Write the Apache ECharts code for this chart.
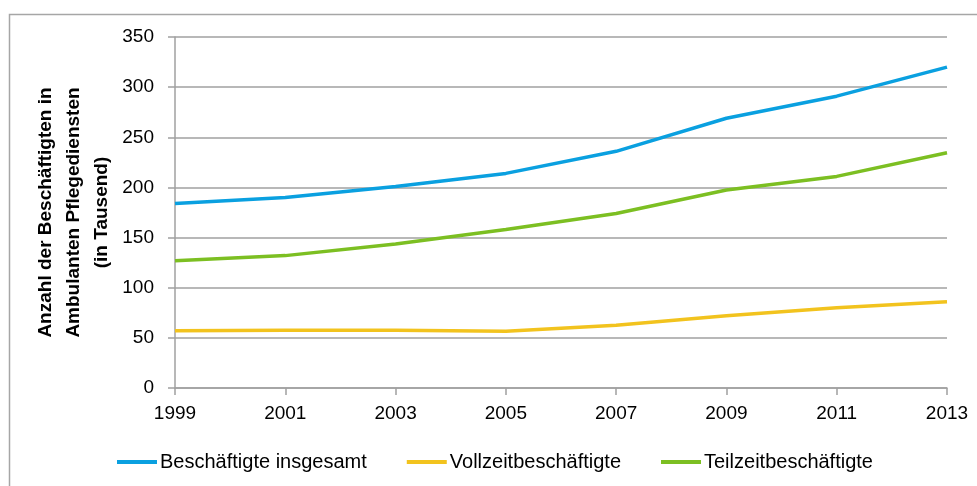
<!DOCTYPE html>
<html>
<head>
<meta charset="utf-8">
<script src="https://cdn.jsdelivr.net/npm/echarts@6/dist/echarts.min.js"></script>
<style>
  html, body { margin: 0; padding: 0; background: #fff; }
  #chart { width: 977px; height: 486px; }
</style>
</head>
<body>
<div id="chart"></div>
<script>
// Jahre (x-Achse)
var years = ["1999", "2001", "2003", "2005", "2007", "2009", "2011", "2013"];
// Werte in Tausend
var insgesamt = [184, 190, 201, 214, 236, 269, 291, 320];
var vollzeit = [57, 57.5, 57.5, 56.5, 62.5, 72, 80, 86];
var teilzeit = [127, 132, 143.5, 158, 174, 197.5, 211, 234.5];
var seriesNames = ["Beschäftigte insgesamt", "Vollzeitbeschäftigte", "Teilzeitbeschäftigte"];
var yTicks = [0, 350, 50]; // min, max, interval

var font = "Liberation Sans, Arial, sans-serif";
var chart = echarts.init(document.getElementById("chart"));

var option = {
  animation: false,
  color: ["#0AA0E0", "#F2C31E", "#7CBF22"],
  graphic: [
    {
      type: "rect",
      shape: { x: 9.5, y: 14.5, width: 1000, height: 500 },
      style: { fill: "none", stroke: "#A6A6A6", lineWidth: 1.5 },
    },
  ],
  grid: {
    left: 175,
    right: 30,
    top: 37,
    bottom: 98,
  },
  legend: {
    left: 112,
    top: 447,
    itemWidth: 40,
    itemHeight: 4,
    itemGap: 40,
    icon: "rect",
    textStyle: { fontFamily: font, fontSize: 20, color: "#000", padding: [0, 0, 0, -2] },
    data: seriesNames,
  },
  xAxis: {
    type: "category",
    boundaryGap: false,
    data: years,
    axisLine: { lineStyle: { color: "#A0A0A0", width: 1.5 } },
    axisTick: { show: true, length: 7, lineStyle: { color: "#A0A0A0", width: 1.5 } },
    axisLabel: { fontFamily: font, fontSize: 19, color: "#000", margin: 16 },
  },
  yAxis: {
    type: "value",
    min: yTicks[0],
    max: yTicks[1],
    interval: yTicks[2],
    name: "Anzahl der Beschäftigten in\nAmbulanten Pflegediensten\n(in Tausend)",
    nameLocation: "middle",
    nameRotate: 90,
    nameGap: 59,
    nameMoveOverlap: false,
    nameTextStyle: {
      fontFamily: font,
      fontSize: 19,
      fontWeight: "bold",
      color: "#000",
      lineHeight: 28,
    },
    axisLine: { show: true, lineStyle: { color: "#A0A0A0", width: 1.5 } },
    axisTick: { show: true, length: 7, lineStyle: { color: "#A0A0A0", width: 1.5 } },
    axisLabel: { fontFamily: font, fontSize: 19, color: "#000", margin: 21 },
    splitLine: { lineStyle: { color: "#A0A0A0", width: 1.5 } },
  },
  series: [
    {
      name: seriesNames[0],
      type: "line",
      data: insgesamt,
      showSymbol: false,
      lineStyle: { width: 3.5 },
    },
    {
      name: seriesNames[1],
      type: "line",
      data: vollzeit,
      showSymbol: false,
      lineStyle: { width: 3.5 },
    },
    {
      name: seriesNames[2],
      type: "line",
      data: teilzeit,
      showSymbol: false,
      lineStyle: { width: 3.5 },
    },
  ],
};

chart.setOption(option);
</script>
</body>
</html>
